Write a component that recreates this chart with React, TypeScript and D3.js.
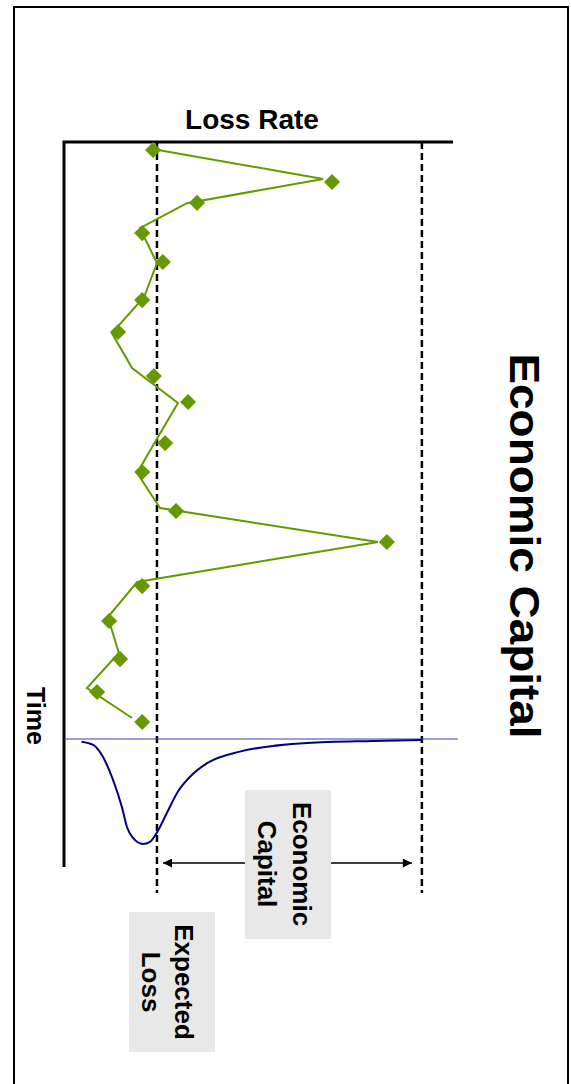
import { useEffect, useRef } from 'react';
import * as d3 from 'd3';

// Loss rate observations (time period, loss rate %) – diamonds
const markerTime = [1.0, 1.95, 2.57, 3.47, 4.33, 5.46, 6.41, 7.72, 8.49, 9.71, 10.57, 11.73, 12.65, 13.96, 15.0, 16.13, 17.11, 18.0];
const markerLoss = [2.29, 6.89, 3.42, 2.01, 2.54, 2.01, 1.39, 2.31, 3.19, 2.6, 2.01, 2.88, 8.3, 2.01, 1.16, 1.44, 0.85, 2.01];

// the connecting line is slightly offset from the markers in the original
const lineTime = [1.0, 1.86, 2.58, 3.32, 4.36, 5.37, 6.44, 7.48, 8.52, 9.56, 10.6, 11.64, 12.65, 13.84, 14.88, 15.95, 16.99, 17.88];
const lineLoss = [2.42, 6.66, 3.16, 1.95, 2.39, 2.06, 1.23, 1.75, 2.93, 2.4, 1.88, 2.47, 8.07, 1.88, 1.13, 1.41, 0.59, 1.75];

// loss distribution (loss rate %, relative density)
const distLoss = [0.45, 0.75, 1.0, 1.26, 1.49, 1.62, 1.77, 2.03, 2.21, 2.39, 2.65, 2.93, 3.24, 3.68, 4.52, 6.25, 7.94, 9.2];
const distDensity = [0.026, 0.057, 0.17, 0.39, 0.65, 0.84, 0.94, 1.0, 0.98, 0.89, 0.7, 0.5, 0.36, 0.23, 0.12, 0.038, 0.019, 0.01];

const expectedLoss = 2.39;
const capitalLimit = 9.2;

const labels = {
  axisTop: 'Loss Rate',
  axisSide: 'Time',
  title: 'Economic Capital',
  ec: ['Economic', 'Capital'],
  el: ['Expected', 'Loss'],
};

const FONT = '"Liberation Sans", Arial, Helvetica, sans-serif';

const App = () => {
  const svgRef = useRef<SVGSVGElement | null>(null);

  useEffect(() => {
    const width = 571;
    const height = 1084;

    const svg = d3.select(svgRef.current);
    svg.selectAll('*').remove();
    svg.attr('width', width).attr('height', height);

    const x = d3.scaleLinear().domain([0, 10]).range([64, 453]);
    const y = d3.scaleLinear().domain([1, 18]).range([150, 722]);
    const baseY = 739;
    const yDens = d3.scaleLinear().domain([0, 1]).range([baseY, baseY + 105]);

    const axisTop = 142;
    const axisBottom = 867;
    const dashBottom = 893;

    // outer frame
    svg.append('rect')
      .attr('x', 14).attr('y', 7)
      .attr('width', 554).attr('height', 1100)
      .attr('fill', 'white')
      .attr('stroke', 'black')
      .attr('stroke-width', 2);

    // dashed EL / EC lines
    [expectedLoss, capitalLimit].forEach(v => {
      svg.append('line')
        .attr('x1', x(v)).attr('x2', x(v))
        .attr('y1', axisTop).attr('y2', dashBottom)
        .attr('stroke', 'black')
        .attr('stroke-width', 2.5)
        .attr('stroke-dasharray', '7,4');
    });

    // axes
    svg.append('path')
      .attr('d', `M${x(0)},${axisBottom}V${axisTop}H${x(10)}`)
      .attr('fill', 'none')
      .attr('stroke', 'black')
      .attr('stroke-width', 3);

    // distribution baseline
    svg.append('line')
      .attr('x1', x(0)).attr('x2', 458)
      .attr('y1', baseY).attr('y2', baseY)
      .attr('stroke', '#3d3db0')
      .attr('stroke-width', 1.2);

    // loss distribution curve
    const distLine = d3.line<number>()
      .x((_, i) => x(distLoss[i]))
      .y(d => yDens(d))
      .curve(d3.curveMonotoneX);

    svg.append('path')
      .attr('d', distLine(distDensity) as string)
      .attr('fill', 'none')
      .attr('stroke', '#000080')
      .attr('stroke-width', 2);

    // loss rate line
    const lossLine = d3.line<number>()
      .x(d => x(d))
      .y((_, i) => y(lineTime[i]));

    svg.append('path')
      .attr('d', lossLine(lineLoss) as string)
      .attr('fill', 'none')
      .attr('stroke', '#669900')
      .attr('stroke-width', 2);

    // diamonds
    const diamond = d3.symbol().type(d3.symbolSquare).size(130);
    svg.selectAll('path.marker')
      .data(markerLoss)
      .enter()
      .append('path')
      .attr('class', 'marker')
      .attr('d', diamond() as string)
      .attr('transform', (d, i) => `translate(${x(d)},${y(markerTime[i])}) rotate(45)`)
      .attr('fill', '#669900');

    // EC arrow
    const arrowY = 863;
    const defs = svg.append('defs');
    defs.append('marker')
      .attr('id', 'arr')
      .attr('viewBox', '0 0 10 10')
      .attr('refX', 10).attr('refY', 5)
      .attr('markerWidth', 11).attr('markerHeight', 9)
      .attr('markerUnits', 'userSpaceOnUse')
      .attr('orient', 'auto-start-reverse')
      .append('path')
      .attr('d', 'M0,0L10,5L0,10Z')
      .attr('fill', 'black');

    svg.append('line')
      .attr('x1', x(expectedLoss) + 6).attr('x2', x(capitalLimit) - 10)
      .attr('y1', arrowY).attr('y2', arrowY)
      .attr('stroke', 'black')
      .attr('stroke-width', 1.5)
      .attr('marker-start', 'url(#arr)')
      .attr('marker-end', 'url(#arr)');

    // label boxes
    const boxes = [
      { x: 245, y: 790, w: 86, h: 149, lines: labels.ec, base: [293, 258], cy: 864 },
      { x: 129, y: 912, w: 86, h: 140, lines: labels.el, base: [175, 142], cy: 982 },
    ];
    boxes.forEach(b => {
      svg.append('rect')
        .attr('x', b.x).attr('y', b.y)
        .attr('width', b.w).attr('height', b.h)
        .attr('fill', '#e8e8e8');
      b.lines.forEach((t, i) => {
        svg.append('text')
          .attr('transform', `translate(${b.base[i]},${b.cy}) rotate(90)`)
          .attr('text-anchor', 'middle')
          .style('font-family', FONT)
          .style('font-weight', 'bold')
          .style('font-size', '26px')
          .text(t);
      });
    });

    // axis titles
    svg.append('text')
      .attr('x', 252).attr('y', 129)
      .attr('text-anchor', 'middle')
      .style('font-family', FONT)
      .style('font-weight', 'bold')
      .style('font-size', '28px')
      .text(labels.axisTop);

    svg.append('text')
      .attr('transform', `translate(27,716) rotate(90)`)
      .attr('text-anchor', 'middle')
      .style('font-family', FONT)
      .style('font-weight', 'bold')
      .style('font-size', '25px')
      .text(labels.axisSide);

    svg.append('text')
      .attr('transform', `translate(510,546) rotate(90)`)
      .attr('text-anchor', 'middle')
      .attr('textLength', 385)
      .attr('lengthAdjust', 'spacingAndGlyphs')
      .style('font-family', FONT)
      .style('font-weight', 'bold')
      .style('font-size', '43px')
      .text(labels.title);
  }, []);

  return <svg ref={svgRef} style={{ position: 'absolute', left: 0, top: 0 }}></svg>;
};

export default App;
